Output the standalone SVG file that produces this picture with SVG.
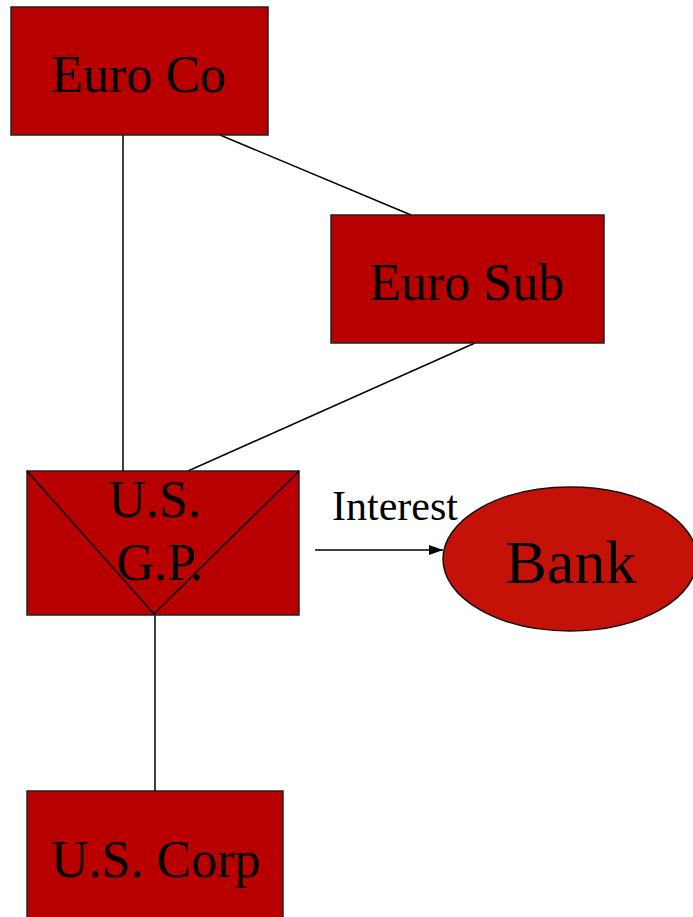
<svg xmlns="http://www.w3.org/2000/svg" width="693" height="917" viewBox="0 0 693 917">
  <style>
    .box { fill: #B80000; stroke: #222; stroke-width: 1.5; }
    .oval { fill: #C41208; stroke: #111; stroke-width: 1.5; }
    .lbl { font-family: "Liberation Serif", "Times New Roman", serif; font-size: 52px; fill: #000; text-anchor: middle; }
    .edge { stroke: #000; stroke-width: 1.5; fill: none; }
  </style>
  <defs>
    <marker id="arrow" markerWidth="14" markerHeight="10" refX="14" refY="5" orient="auto" markerUnits="userSpaceOnUse">
      <path d="M0,0 L14,5 L0,10 z" fill="#000"/>
    </marker>
  </defs>
  <rect width="693" height="917" fill="#fff"/>

  <g id="connectors">
    <line class="edge" x1="123" y1="135" x2="123" y2="471"/>
    <line class="edge" x1="220" y1="135" x2="411" y2="215"/>
    <line class="edge" x1="475" y1="343" x2="188" y2="471"/>
    <line class="edge" x1="155" y1="614" x2="155" y2="791"/>
    <line class="edge" x1="315" y1="550" x2="443" y2="550" marker-end="url(#arrow)"/>
    <text x="395" y="520" style="font-family: 'Liberation Serif', 'Times New Roman', serif; font-size: 42px; text-anchor: middle;">Interest</text>
  </g>

  <g id="euro-co">
    <rect class="box" x="11" y="7" width="257" height="128"/>
    <text class="lbl" x="139" y="92">Euro Co</text>
  </g>

  <g id="euro-sub">
    <rect class="box" x="331" y="215" width="273" height="128"/>
    <text class="lbl" x="467" y="300">Euro Sub</text>
  </g>

  <g id="us-gp">
    <rect class="box" x="27" y="471" width="272" height="144"/>
    <path class="edge" d="M27,471 L154,614 L299,471"/>
    <text class="lbl" x="155" y="517">U.S.</text>
    <text class="lbl" x="160" y="580">G.P.</text>
  </g>

  <g id="bank">
    <ellipse class="oval" cx="570" cy="559" rx="127" ry="72"/>
    <text class="lbl" x="571" y="583" style="font-size: 62px;">Bank</text>
  </g>

  <g id="us-corp">
    <rect class="box" x="27" y="791" width="256" height="140"/>
    <text class="lbl" x="156" y="877">U.S. Corp</text>
  </g>
</svg>
